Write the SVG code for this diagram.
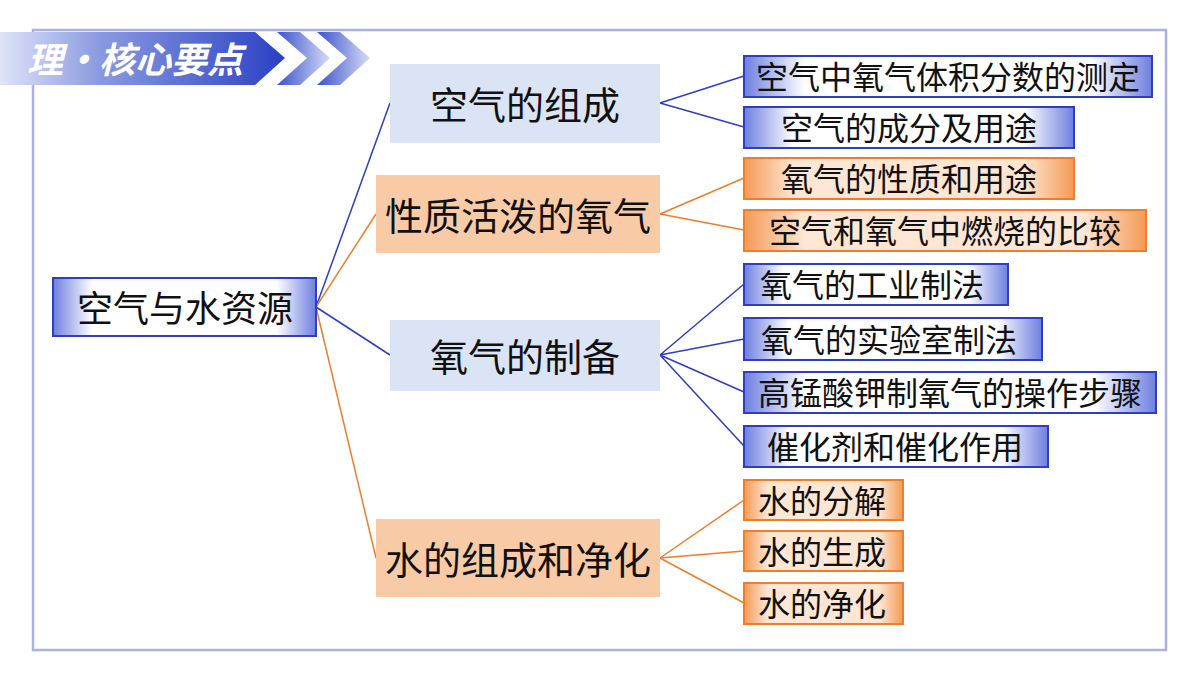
<svg xmlns="http://www.w3.org/2000/svg" width="1200" height="675" viewBox="0 0 1200 675">
<defs>
<linearGradient id="hdr" x1="0" x2="1" y1="0" y2="0"><stop offset="0" stop-color="#dfe4f8"/><stop offset="0.35" stop-color="#8a9ae0"/><stop offset="1" stop-color="#2a40c4"/></linearGradient>
<linearGradient id="chev" x1="0" x2="1"><stop offset="0" stop-color="#3a52cc"/><stop offset="1" stop-color="#d6dcf5"/></linearGradient>
<linearGradient id="bg" x1="0" x2="1"><stop offset="0" stop-color="#6e7fe0"/><stop offset="0.15" stop-color="#ffffff"/><stop offset="0.85" stop-color="#ffffff"/><stop offset="1" stop-color="#6e7fe0"/></linearGradient>
<linearGradient id="og" x1="0" x2="1"><stop offset="0" stop-color="#f59a55"/><stop offset="0.15" stop-color="#fde6d4"/><stop offset="0.85" stop-color="#fde6d4"/><stop offset="1" stop-color="#f59a55"/></linearGradient>
</defs>
<style>
text{font-family:"Noto Sans CJK SC","Noto Sans",sans-serif;fill:#111;dominant-baseline:central;text-anchor:middle}
.bl{fill:url(#bg);stroke:#2d3fc0;stroke-width:2}
.ol{fill:url(#og);stroke:#ef7d2a;stroke-width:2}
.lf{font-size:32px}
.l1{font-size:38px}
.cb{stroke:#2d3fc0;stroke-width:1.5;fill:none}
.co{stroke:#ef7d2a;stroke-width:1.5;fill:none}
</style>
<rect width="1200" height="675" fill="#fff"/>
<rect x="33" y="30" width="1133" height="620" fill="#fff" stroke="#a9b0e8" stroke-width="2.5"/>
<g id="header">
<polygon points="0,32 255,32 285,58 255,85 0,85" fill="url(#hdr)"/>
<polygon points="277,32 300,32 330,58 300,85 277,85 307,58" fill="url(#chev)"/>
<polygon points="317,32 340,32 370,58 340,85 317,85 347,58" fill="url(#chev)"/>
<text x="135" y="57" style="font-size:36px;font-weight:bold;font-style:italic;fill:#fff">理·核心要点</text>
</g>
<g id="connectors">
<path class="cb" d="M316,307 L390,103"/>
<path class="co" d="M316,307 L376,214"/>
<path class="cb" d="M316,307 L390,355"/>
<path class="co" d="M316,307 L376,558"/>
<path class="cb" d="M660,103 L744,76 M660,103 L744,127"/>
<path class="co" d="M660,214 L744,178 M660,214 L744,230"/>
<path class="cb" d="M660,355 L744,284 M660,355 L744,339 M660,355 L744,392 M660,355 L744,446"/>
<path class="co" d="M660,558 L744,500 M660,558 L744,551 M660,558 L744,603"/>
</g>
<g id="root"><rect class="bl" x="53" y="278" width="263" height="58"/><text x="185" y="306" style="font-size:36px">空气与水资源</text></g>
<g id="n1"><rect x="390" y="64" width="270" height="79" fill="#dbe4f4"/><text class="l1" x="525" y="102">空气的组成</text></g>
<g id="n2"><rect x="376" y="175" width="284" height="78" fill="#f8cba6"/><text class="l1" x="518" y="213">性质活泼的氧气</text></g>
<g id="n3"><rect x="390" y="320" width="270" height="71" fill="#dbe4f4"/><text class="l1" x="525" y="354">氧气的制备</text></g>
<g id="n4"><rect x="376" y="519" width="284" height="78" fill="#f8cba6"/><text class="l1" x="518" y="557">水的组成和净化</text></g>
<g id="l1"><rect class="bl" x="744" y="56" width="408" height="41"/><text class="lf" x="948" y="75">空气中氧气体积分数的测定</text></g>
<g id="l2"><rect class="bl" x="744" y="107" width="330" height="41"/><text class="lf" x="909" y="126">空气的成分及用途</text></g>
<g id="l3"><rect class="ol" x="744" y="158" width="330" height="41"/><text class="lf" x="909" y="177">氧气的性质和用途</text></g>
<g id="l4"><rect class="ol" x="744" y="210" width="402" height="41"/><text class="lf" x="945" y="229">空气和氧气中燃烧的比较</text></g>
<g id="l5"><rect class="bl" x="744" y="264" width="264" height="41"/><text class="lf" x="872" y="283">氧气的工业制法</text></g>
<g id="l6"><rect class="bl" x="744" y="318" width="298" height="42"/><text class="lf" x="889" y="338">氧气的实验室制法</text></g>
<g id="l7"><rect class="bl" x="744" y="372" width="412" height="41"/><text class="lf" x="950" y="391">高锰酸钾制氧气的操作步骤</text></g>
<g id="l8"><rect class="bl" x="744" y="426" width="304" height="41"/><text class="lf" x="895" y="445">催化剂和催化作用</text></g>
<g id="l9"><rect class="ol" x="744" y="480" width="159" height="40"/><text class="lf" x="822" y="499">水的分解</text></g>
<g id="l10"><rect class="ol" x="744" y="531" width="159" height="40"/><text class="lf" x="822" y="550">水的生成</text></g>
<g id="l11"><rect class="ol" x="744" y="583" width="159" height="41"/><text class="lf" x="822" y="602">水的净化</text></g>
</svg>
